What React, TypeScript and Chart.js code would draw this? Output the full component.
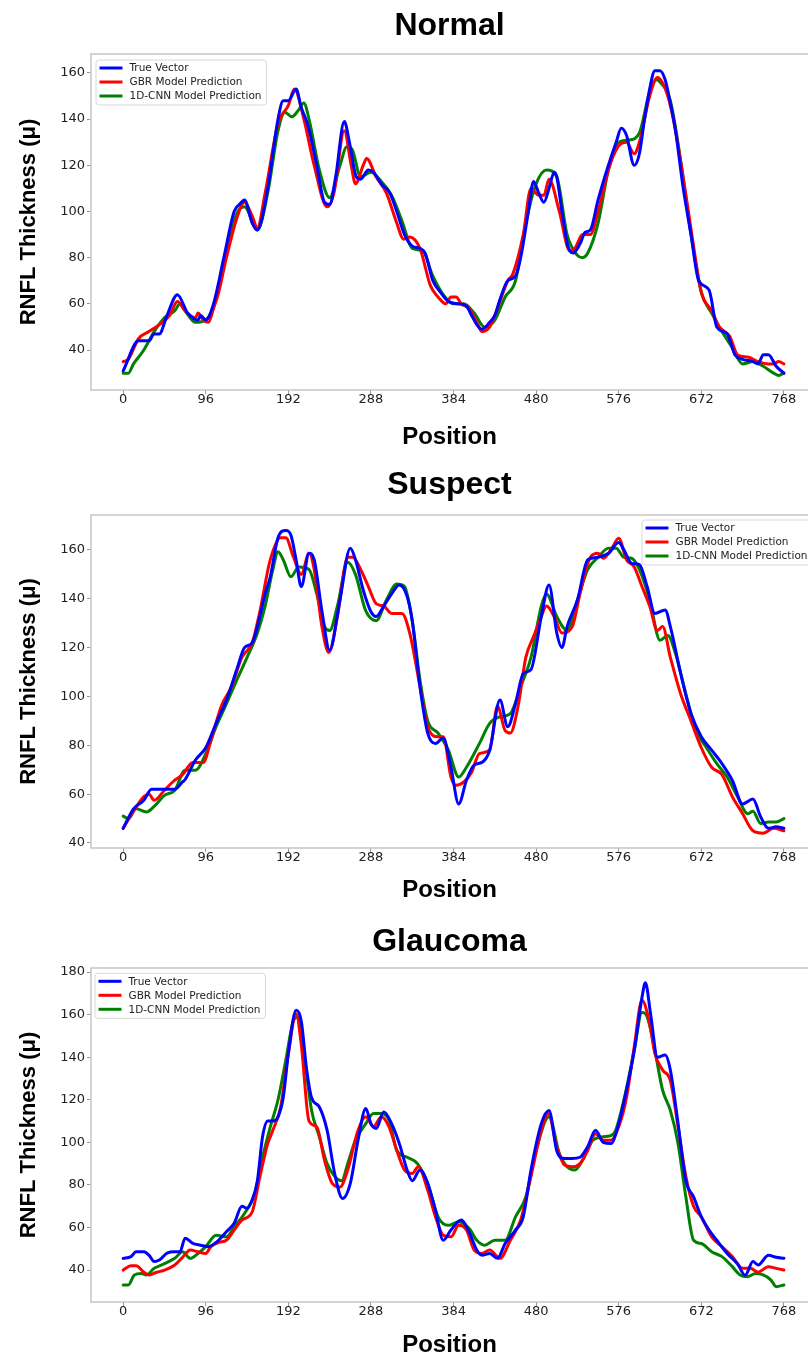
import React, { useEffect, useRef } from "react";
import { Chart, registerables } from "chart.js";

Chart.register(...registerables);

// ---------- shared labels / ticks ----------
const SERIES_LABELS = ["True Vector", "GBR Model Prediction", "1D-CNN Model Prediction"];
const SERIES_COLORS = ["rgb(0,0,255)", "rgb(255,0,0)", "rgb(0,128,0)"];
const PANEL_TITLES = ["Normal", "Suspect", "Glaucoma"];
const X_TICKS = [0, 96, 192, 288, 384, 480, 576, 672, 768];
const Y_TICKS_NORMAL = [40, 60, 80, 100, 120, 140, 160];
const Y_TICKS_SUSPECT = [40, 60, 80, 100, 120, 140, 160];
const Y_TICKS_GLAUCOMA = [40, 60, 80, 100, 120, 140, 160, 180];
const X_TITLE = "Position";
const Y_TITLE = "RNFL Thickness (\u03bc)";

// ---------- Normal ----------
const normalTruePos = [0, 18, 30, 36, 42, 51, 63, 75, 87, 90, 96, 105, 117, 129, 135, 141, 150, 156, 168, 180, 186, 192, 201, 207, 215, 225, 234, 240, 247, 257, 263, 271, 276, 285, 291, 300, 310, 318, 327, 336, 345, 351, 360, 369, 378, 390, 399, 405, 411, 417, 426, 432, 438, 447, 456, 462, 471, 477, 483, 489, 495, 501, 504, 510, 517, 523, 531, 537, 543, 552, 564, 573, 579, 585, 594, 600, 606, 613, 618, 624, 630, 636, 642, 651, 660, 669, 681, 690, 702, 711, 720, 732, 738, 744, 750, 759, 768];
const normalTrueVal = [31, 44, 44, 47, 47, 55, 64, 56, 53, 55, 53, 60, 80, 100, 103, 105, 95, 92, 110, 140, 148, 148, 153, 145, 137, 120, 104, 103, 115, 139, 130, 115, 114, 118, 117, 112, 108, 100, 90, 85, 84, 82, 70, 65, 61, 60, 59, 55, 51, 49, 52, 55, 62, 70, 72, 80, 100, 113, 108, 104, 110, 117, 115, 100, 85, 82, 86, 91, 92, 105, 120, 130, 136, 133, 120, 125, 140, 155, 161, 161, 157, 147, 135, 110, 90, 70, 66, 50, 47, 38, 36, 35, 34, 38, 38, 33, 30];
const normalGbrPos = [0, 6, 18, 30, 42, 54, 63, 72, 84, 87, 93, 99, 105, 111, 120, 132, 141, 150, 156, 165, 180, 192, 199, 210, 222, 237, 245, 257, 265, 270, 279, 283, 294, 306, 318, 326, 333, 345, 357, 366, 375, 381, 387, 393, 402, 411, 417, 426, 435, 447, 453, 465, 474, 483, 489, 495, 507, 519, 525, 534, 543, 552, 564, 575, 585, 594, 600, 612, 621, 633, 642, 657, 663, 672, 684, 693, 705, 714, 726, 738, 750, 756, 762, 768];
const normalGbrVal = [35, 36, 45, 48, 51, 55, 61, 57, 54, 56, 53, 52, 58, 65, 80, 97, 104, 98, 93, 108, 138, 146, 153, 140, 120, 102, 108, 135, 120, 112, 120, 123, 115, 108, 95, 88, 89, 84, 68, 63, 60, 63, 63, 60, 58, 52, 48, 50, 58, 70, 73, 90, 110, 107, 107, 114, 100, 83, 84, 90, 90, 100, 118, 128, 130, 125, 130, 150, 158, 150, 135, 100, 85, 65, 57, 50, 46, 38, 37, 35, 34, 34, 35, 34];
const normalCnnPos = [0, 6, 12, 24, 36, 48, 60, 66, 72, 84, 96, 108, 120, 132, 141, 156, 168, 180, 188, 196, 204, 210, 216, 228, 240, 252, 260, 266, 276, 288, 300, 312, 324, 336, 348, 360, 372, 384, 396, 408, 420, 432, 444, 456, 468, 480, 492, 504, 516, 528, 534, 540, 552, 564, 576, 588, 600, 612, 620, 624, 636, 648, 660, 672, 684, 696, 708, 720, 732, 744, 756, 762, 768];
const normalCnnVal = [30, 30, 34, 40, 48, 54, 57, 60, 57, 52, 53, 62, 82, 99, 102, 92, 108, 135, 143, 141, 144, 147, 140, 118, 106, 120, 128, 127, 115, 117, 113, 107, 96, 84, 83, 72, 64, 60, 60, 56, 50, 53, 63, 70, 95, 112, 118, 115, 90, 81, 80, 82, 95, 118, 130, 131, 134, 152, 157, 156, 148, 122, 90, 65, 56, 48, 41, 34, 35, 33, 30, 29, 30];

// ---------- Suspect ----------
const suspectTruePos = [0, 12, 24, 33, 48, 60, 69, 72, 84, 96, 108, 120, 132, 141, 150, 159, 165, 171, 180, 189, 195, 201, 207, 216, 222, 231, 240, 252, 264, 270, 279, 288, 294, 303, 312, 321, 330, 336, 345, 354, 363, 372, 381, 390, 399, 408, 417, 426, 438, 447, 456, 465, 474, 486, 495, 504, 510, 516, 528, 540, 552, 564, 576, 582, 591, 600, 609, 618, 630, 636, 648, 660, 672, 684, 696, 708, 720, 732, 741, 750, 759, 768];
const suspectTrueVal = [46, 54, 57.5, 62, 62, 62, 65, 66, 74, 79, 89, 98.5, 111, 120, 122, 133, 142, 149, 165, 168, 166, 156, 145, 158.6, 156, 135, 119, 139.5, 160.7, 156, 143.6, 134.7, 132.7, 137, 142, 145.6, 141, 131, 104, 85, 80.7, 83, 71, 56, 65.7, 72, 73, 78, 98.5, 87.6, 97, 109.4, 111, 132.7, 145.6, 126, 120, 128.6, 139.5, 156, 157, 158.6, 163, 160, 154.5, 154, 145, 134, 135.4, 128.6, 109.4, 93, 83.5, 78, 72.5, 65.7, 56, 58, 50.7, 46, 46.6, 46];
const suspectGbrPos = [0, 12, 24, 30, 36, 48, 60, 69, 81, 93, 102, 114, 126, 138, 150, 159, 171, 183, 189, 198, 207, 216, 222, 231, 239, 249, 261, 267, 276, 285, 294, 303, 312, 324, 333, 345, 354, 366, 372, 381, 387, 396, 405, 414, 426, 435, 444, 450, 459, 468, 477, 486, 492, 501, 510, 522, 531, 543, 552, 558, 567, 576, 585, 594, 603, 612, 621, 627, 636, 648, 660, 672, 684, 696, 708, 720, 732, 744, 756, 768];
const suspectGbrVal = [46, 53, 59, 60, 57.5, 61.6, 65.7, 68, 73, 73, 82, 96, 104, 116, 122, 135, 156, 165, 165, 157, 150, 158.6, 152, 128.6, 118, 132.7, 157, 157, 152, 145, 138, 137, 134, 134, 126, 104, 87.6, 83.5, 83.5, 67, 63.6, 65, 69, 76.6, 78, 96, 86, 85, 96, 116, 124.5, 132.7, 137, 132.7, 126, 128.6, 142, 157, 158.6, 156.6, 160, 164.8, 156, 153, 145, 137, 127, 128.6, 116, 101, 90, 79, 71, 68, 59, 52, 45, 44, 46, 45];
const suspectCnnPos = [0, 6, 15, 27, 36, 48, 60, 72, 84, 96, 108, 120, 132, 144, 156, 165, 174, 180, 186, 195, 204, 216, 225, 234, 240, 249, 261, 270, 282, 294, 306, 318, 327, 336, 345, 354, 366, 378, 390, 399, 414, 426, 438, 450, 462, 474, 486, 492, 504, 516, 528, 540, 552, 564, 573, 582, 591, 600, 612, 624, 633, 642, 654, 666, 678, 690, 702, 714, 726, 732, 741, 750, 759, 768];
const suspectCnnVal = [51, 50, 54, 52.7, 55, 59.5, 61.6, 69.8, 69.8, 76.6, 87.6, 97, 106.7, 116, 126, 137, 152, 159.3, 156, 149, 153, 152, 142, 128.6, 127, 137, 155, 150, 135, 131, 139.5, 146, 145, 131, 106.7, 90, 85, 78, 67, 71, 80.7, 89, 91.7, 93, 104, 116, 137, 142, 132.7, 127, 139.5, 152, 157, 160.7, 160.7, 157, 156.6, 152, 139.5, 123, 125, 117.6, 101, 86, 79, 72.5, 67, 59, 52, 53, 48, 48.6, 48.6, 50];

// ---------- Glaucoma ----------
const glaucomaTruePos = [0, 9, 15, 24, 30, 36, 42, 51, 60, 66, 72, 81, 90, 99, 108, 120, 129, 138, 144, 150, 156, 162, 168, 174, 180, 186, 192, 201, 207, 213, 219, 228, 237, 246, 255, 264, 273, 282, 288, 294, 303, 312, 321, 330, 336, 345, 354, 363, 372, 381, 393, 402, 411, 417, 426, 435, 444, 456, 465, 474, 486, 495, 504, 513, 522, 531, 540, 549, 558, 567, 576, 585, 594, 603, 607, 613, 621, 630, 636, 645, 654, 663, 672, 681, 690, 702, 714, 723, 732, 738, 750, 759, 768];
const glaucomaTrueVal = [45.5, 46.3, 48.6, 48.6, 47, 44, 44.7, 48, 48.6, 48.6, 55, 52.5, 51.7, 51, 53, 58, 62, 70, 69, 73, 82, 102.6, 110, 110, 112, 121, 141.7, 162, 157, 135, 121, 116.6, 105.7, 85, 73.6, 80.7, 101, 115.9, 108.8, 106.5, 114.3, 108.8, 99.4, 87, 82, 87, 80.7, 68, 54, 58.8, 63.5, 58, 49.4, 47, 47.8, 45.5, 52.5, 58.8, 65, 87, 108.8, 115, 96, 92.4, 92.4, 93, 98, 105.7, 100, 99.4, 108.8, 124.5, 143, 168, 175, 160.4, 140, 141, 134, 108.8, 82, 74.4, 65, 58.8, 54, 47.8, 43, 37.6, 44, 42.4, 47, 46, 45.5];
const glaucomaGbrPos = [0, 9, 15, 24, 30, 39, 48, 60, 69, 78, 87, 96, 102, 111, 120, 129, 138, 150, 159, 168, 174, 183, 192, 201, 207, 216, 225, 234, 243, 252, 261, 273, 282, 291, 300, 309, 318, 327, 336, 343, 354, 363, 372, 381, 390, 399, 408, 417, 426, 438, 450, 462, 474, 486, 494, 504, 513, 522, 531, 540, 549, 558, 567, 576, 585, 594, 603, 612, 618, 627, 636, 645, 654, 663, 672, 684, 696, 708, 720, 729, 738, 750, 759, 768];
const glaucomaGbrVal = [40, 42, 42, 39, 37.7, 39, 40, 42.4, 46, 49.4, 48.6, 47.8, 51, 53, 54, 58.8, 63.5, 67.4, 84, 99.4, 105.7, 116.6, 141.7, 160.4, 146, 110, 107.3, 91.6, 80.7, 79, 87, 105.7, 112, 107.3, 112, 107.3, 96.3, 87, 85.4, 88.5, 77.5, 65, 56.4, 55.6, 61, 58.8, 49.4, 47.8, 49.4, 45.5, 54, 63.5, 84, 105.7, 113.5, 98, 89.3, 88.5, 90, 96.3, 104, 101, 101, 107.3, 121, 144.8, 166.7, 155.8, 141.7, 134, 129, 107.3, 84, 70, 65, 55.6, 51, 46.3, 40.8, 40.8, 39, 41.6, 40.8, 40];
const glaucomaCnnPos = [0, 6, 13, 21, 27, 36, 48, 60, 69, 78, 87, 96, 108, 120, 129, 141, 153, 162, 171, 180, 189, 198, 203, 210, 219, 228, 237, 246, 254, 261, 270, 282, 291, 300, 309, 318, 330, 342, 354, 366, 378, 390, 402, 411, 420, 432, 444, 456, 468, 480, 495, 507, 516, 525, 534, 546, 558, 570, 582, 594, 603, 609, 618, 627, 636, 645, 654, 663, 672, 684, 696, 708, 717, 726, 735, 744, 753, 759, 768];
const glaucomaCnnVal = [33, 33, 37.7, 38.4, 37.7, 40.8, 43, 45.5, 48.6, 45.5, 47.8, 51, 56.4, 55.6, 60.3, 66.6, 76, 93, 107.3, 120, 138.5, 157.3, 159, 141.7, 115, 102.6, 90, 84, 82, 90, 101, 108.8, 113.5, 113.5, 110.4, 96.3, 93, 90, 80.7, 65, 61, 62.7, 59.6, 54, 51.7, 54, 54, 65, 74.4, 96.3, 112, 94.7, 88.5, 87, 91.6, 101, 102.6, 104, 120, 143.2, 161, 159, 143.2, 124.5, 115, 99.4, 74.4, 54, 52.5, 48.6, 46.3, 41.6, 37.7, 36.9, 38.4, 37.7, 35.3, 32.2, 33];

// ---------- fonts ----------
const TITLE_FONT = "'Liberation Sans', Arial, Helvetica, sans-serif";
const TICK_FONT = "'DejaVu Sans', sans-serif";

// ---------- plugins ----------
const framePlugin = {
  id: "frame",
  beforeDatasetsDraw(chart: any) {
    const { ctx, chartArea: a } = chart;
    ctx.save();
    ctx.strokeStyle = "#c6c6c6";
    ctx.lineWidth = 1.5;
    ctx.strokeRect(a.left, a.top, a.right - a.left + 30, a.bottom - a.top);
    ctx.restore();
  },
};

const boxLegendPlugin = {
  id: "boxLegend",
  afterDatasetsDraw(chart: any, _args: any, opts: any) {
    const { ctx, chartArea } = chart;
    const ds = chart.data.datasets;
    ctx.save();
    ctx.font = "10.5px " + TICK_FONT;
    const textW = Math.max(...ds.map((d: any) => ctx.measureText(d.label).width));
    const rowH = 14;
    const lineLen = 23;
    const w = 3.5 + lineLen + 7 + textW + 5;
    const h = 8 + rowH * (ds.length - 1) + 9;
    const x = chartArea.left + opts.dx;
    const y = chartArea.top + opts.dy;
    const r = 3;
    ctx.beginPath();
    ctx.moveTo(x + r, y);
    ctx.lineTo(x + w - r, y);
    ctx.arcTo(x + w, y, x + w, y + r, r);
    ctx.lineTo(x + w, y + h - r);
    ctx.arcTo(x + w, y + h, x + w - r, y + h, r);
    ctx.lineTo(x + r, y + h);
    ctx.arcTo(x, y + h, x, y + h - r, r);
    ctx.lineTo(x, y + r);
    ctx.arcTo(x, y, x + r, y, r);
    ctx.closePath();
    ctx.fillStyle = "rgba(255,255,255,0.85)";
    ctx.fill();
    ctx.strokeStyle = "#d8d8d8";
    ctx.lineWidth = 1;
    ctx.stroke();
    ds.forEach((d: any, i: number) => {
      const cy = y + 8 + i * rowH;
      ctx.beginPath();
      ctx.moveTo(x + 3.5, cy);
      ctx.lineTo(x + 3.5 + lineLen, cy);
      ctx.strokeStyle = d.borderColor;
      ctx.lineWidth = 3;
      ctx.stroke();
      ctx.fillStyle = "#222";
      ctx.textBaseline = "middle";
      ctx.textAlign = "left";
      ctx.fillText(d.label, x + 3.5 + lineLen + 7, cy + 0.5);
    });
    ctx.restore();
  },
};

// ---------- panel specs (built from the arrays) ----------
const PANELS = [
  {
    title: PANEL_TITLES[0],
    height: 460,
    series: [
      [normalTruePos, normalTrueVal],
      [normalGbrPos, normalGbrVal],
      [normalCnnPos, normalCnnVal],
    ],
    yTicks: Y_TICKS_NORMAL,
    yMin: 22.7,
    yMax: 168.2,
    titlePad: { top: 7.3, bottom: 8.3 },
    xAxisHeight: 70,
    xTitlePadBottom: 8.6,
    legend: { dx: 5, dy: 6 },
  },
  {
    title: PANEL_TITLES[1],
    height: 450,
    series: [
      [suspectTruePos, suspectTrueVal],
      [suspectGbrPos, suspectGbrVal],
      [suspectCnnPos, suspectCnnVal],
    ],
    yTicks: Y_TICKS_SUSPECT,
    yMin: 37.95,
    yMax: 174.3,
    titlePad: { top: 5.8, bottom: 10.8 },
    xAxisHeight: 62,
    xTitlePadBottom: 5.6,
    legend: { dx: 551, dy: 5 },
  },
  {
    title: PANEL_TITLES[2],
    height: 448,
    series: [
      [glaucomaTruePos, glaucomaTrueVal],
      [glaucomaGbrPos, glaucomaGbrVal],
      [glaucomaCnnPos, glaucomaCnnVal],
    ],
    yTicks: Y_TICKS_GLAUCOMA,
    yMin: 25.0,
    yMax: 181.9,
    titlePad: { top: 12.5, bottom: 7.1 },
    xAxisHeight: 56,
    xTitlePadBottom: -2,
    legend: { dx: 4, dy: 5.3 },
  },
];

function buildConfig(p: any): any {
  return {
    type: "line",
    data: {
      datasets: p.series.map((s: any, i: number) => ({
        label: SERIES_LABELS[i],
        data: s[0].map((x: number, j: number) => ({ x, y: s[1][j] })),
        borderColor: SERIES_COLORS[i],
        backgroundColor: SERIES_COLORS[i],
        borderWidth: 3,
        pointRadius: 0,
        pointHoverRadius: 0,
        fill: false,
        cubicInterpolationMode: "monotone",
        borderJoinStyle: "round",
        borderCapStyle: "round",
      })),
    },
    options: {
      responsive: false,
      maintainAspectRatio: false,
      animation: false,
      devicePixelRatio: 1,
      layout: { padding: 0 },
      plugins: {
        legend: { display: false },
        tooltip: { enabled: false },
        title: {
          display: true,
          text: p.title,
          fullSize: false,
          color: "#000",
          font: { family: TITLE_FONT, size: 32, weight: "bold", lineHeight: 1.2 },
          padding: p.titlePad,
        },
        boxLegend: p.legend,
      },
      scales: {
        x: {
          type: "linear",
          min: -37.4,
          max: 796,
          afterBuildTicks: (axis: any) => {
            axis.ticks = X_TICKS.map((value) => ({ value }));
          },
          afterFit: (axis: any) => {
            axis.height = p.xAxisHeight;
          },
          ticks: {
            autoSkip: false,
            maxRotation: 0,
            padding: -1,
            color: "#222",
            font: { family: TICK_FONT, size: 13, lineHeight: 1 },
            callback: (v: any) => String(v),
          },
          grid: { display: true, drawOnChartArea: false, drawTicks: true, tickLength: 4, color: "#999" },
          border: { display: false },
          title: {
            display: true,
            text: X_TITLE,
            color: "#000",
            font: { family: TITLE_FONT, size: 24, weight: "bold", lineHeight: 1.2 },
            padding: { top: 0, bottom: p.xTitlePadBottom },
          },
        },
        y: {
          type: "linear",
          min: p.yMin,
          max: p.yMax,
          afterBuildTicks: (axis: any) => {
            axis.ticks = p.yTicks.map((value: number) => ({ value }));
          },
          afterFit: (axis: any) => {
            axis.width = 91;
          },
          ticks: {
            autoSkip: false,
            padding: 2,
            color: "#222",
            font: { family: TICK_FONT, size: 13, lineHeight: 1 },
            callback: (v: any) => String(v),
          },
          grid: { display: true, drawOnChartArea: false, drawTicks: true, tickLength: 4, color: "#999" },
          border: { display: false },
          title: {
            display: true,
            text: Y_TITLE,
            color: "#000",
            font: { family: TITLE_FONT, size: 22, weight: "bold", lineHeight: 1.2 },
            padding: { top: 15.8, bottom: 0 },
          },
        },
      },
    },
    plugins: [framePlugin, boxLegendPlugin],
  };
}

function Panel({ spec }: { spec: any }) {
  const ref = useRef<HTMLCanvasElement | null>(null);
  useEffect(() => {
    if (!ref.current) return;
    const chart = new Chart(ref.current, buildConfig(spec));
    return () => chart.destroy();
  }, [spec]);
  return (
    <div style={{ width: 808, height: spec.height, position: "relative" }}>
      <canvas
        ref={ref}
        width={808}
        height={spec.height}
        style={{ display: "block", width: 808, height: spec.height }}
      />
    </div>
  );
}

export default function App() {
  return (
    <div
      style={{
        position: "absolute",
        left: 0,
        top: 0,
        width: 808,
        height: 1358,
        background: "#fff",
      }}
    >
      {PANELS.map((p) => (
        <Panel key={p.title} spec={p} />
      ))}
    </div>
  );
}
